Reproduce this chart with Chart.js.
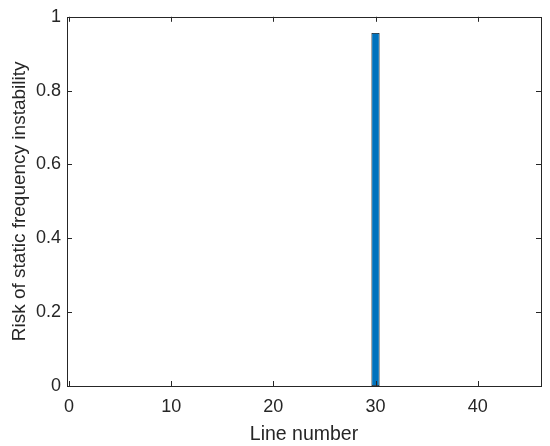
<!DOCTYPE html>
<html>
<head>
<meta charset="utf-8">
<script src="https://cdn.jsdelivr.net/npm/chart.js@4/dist/chart.umd.min.js"></script>
<style>
  html, body { margin: 0; padding: 0; background: #fff; }
  #wrap { width: 550px; height: 446px; }
</style>
</head>
<body>
<div id="wrap"><canvas id="riskChart"></canvas></div>
<script>
// line numbers and the risk
const lineNumbers = [1, 2, 3, 4, 5, 6, 7, 8, 9, 10,
                     11, 12, 13, 14, 15, 16, 17, 18, 19, 20,
                     21, 22, 23, 24, 25, 26, 27, 28, 29, 30,
                     31, 32, 33, 34, 35, 36, 37, 38, 39, 40,
                     41, 42, 43, 44, 45, 46];
const riskValues = [0, 0, 0, 0, 0, 0, 0, 0, 0, 0,
                    0, 0, 0, 0, 0, 0, 0, 0, 0, 0,
                    0, 0, 0, 0, 0, 0, 0, 0, 0, 0.956,
                    0, 0, 0, 0, 0, 0, 0, 0, 0, 0,
                    0, 0, 0, 0, 0, 0];
const xTicks = [0, 10, 20, 30, 40];
const yTicks = [0, 0.2, 0.4, 0.6, 0.8, 1];
const yTickLabels = ['0', '0.2', '0.4', '0.6', '0.8', '1'];

const axisColor = '#262626';
const fontFamily = 'Arial, "Liberation Sans", Helvetica, sans-serif';

// matlab style box with inward ticks on all four sides
const boxPlugin = {
    id: 'matlabBox',
    afterDraw(chart) {
        const ctx = chart.ctx;
        const a = chart.chartArea;
        const xs = chart.scales.x;
        const ys = chart.scales.y;
        const len = 5;
        ctx.save();
        ctx.strokeStyle = axisColor;
        ctx.lineWidth = 1;
        ctx.beginPath();
        xTicks.forEach(v => {
            const px = Math.round(xs.getPixelForValue(v)) + 0.5;
            ctx.moveTo(px, a.bottom);
            ctx.lineTo(px, a.bottom - len);
            ctx.moveTo(px, a.top);
            ctx.lineTo(px, a.top + len);
        });
        yTicks.forEach(v => {
            const py = Math.round(ys.getPixelForValue(v)) + 0.5;
            ctx.moveTo(a.left, py);
            ctx.lineTo(a.left + len, py);
            ctx.moveTo(a.right, py);
            ctx.lineTo(a.right - len, py);
        });
        ctx.stroke();
        ctx.strokeRect(Math.round(a.left) + 0.5, Math.round(a.top) + 0.5,
                       Math.round(a.right - a.left), Math.round(a.bottom - a.top));
        ctx.restore();
    }
};

const ctx = document.getElementById('riskChart').getContext('2d');
const chart = new Chart(ctx, {
    type: 'bar',
    data: {
        datasets: [{
            data: lineNumbers.map((n, i) => ({ x: n, y: riskValues[i] })),
            backgroundColor: '#0072BD',
            borderColor: '#000000',
            borderWidth: 0.8,
            borderSkipped: false,
            barPercentage: 0.8,
            categoryPercentage: 1
        }]
    },
    options: {
        responsive: true,
        maintainAspectRatio: false,
        animation: false,
        layout: { padding: { top: 16, right: 9, left: 0, bottom: 0 } },
        plugins: {
            legend: { display: false },
            tooltip: { enabled: false }
        },
        scales: {
            x: {
                type: 'linear',
                offset: false,
                min: -0.2,
                max: 46.2,
                afterBuildTicks: s => { s.ticks = xTicks.map(v => ({ value: v })); },
                afterFit: s => { s.height = 60; },
                grid: { display: false, drawTicks: false },
                border: { display: false },
                ticks: {
                    color: axisColor,
                    padding: 10,
                    maxRotation: 0,
                    font: { family: fontFamily, size: 18 }
                },
                title: {
                    display: true,
                    text: 'Line number',
                    color: axisColor,
                    padding: { top: 2, bottom: 0 },
                    font: { family: fontFamily, size: 19.5 }
                }
            },
            y: {
                min: 0,
                max: 1,
                afterBuildTicks: s => { s.ticks = yTicks.map(v => ({ value: v })); },
                afterFit: s => { s.width = 67; },
                grid: { display: false, drawTicks: false },
                border: { display: false },
                ticks: {
                    color: axisColor,
                    padding: 6,
                    font: { family: fontFamily, size: 18 },
                    callback: (value, index) => yTickLabels[index]
                },
                title: {
                    display: true,
                    text: 'Risk of static frequency instability',
                    color: axisColor,
                    padding: { top: 8, bottom: 0 },
                    font: { family: fontFamily, size: 19 }
                }
            }
        }
    },
    plugins: [boxPlugin]
});
</script>
</body>
</html>
